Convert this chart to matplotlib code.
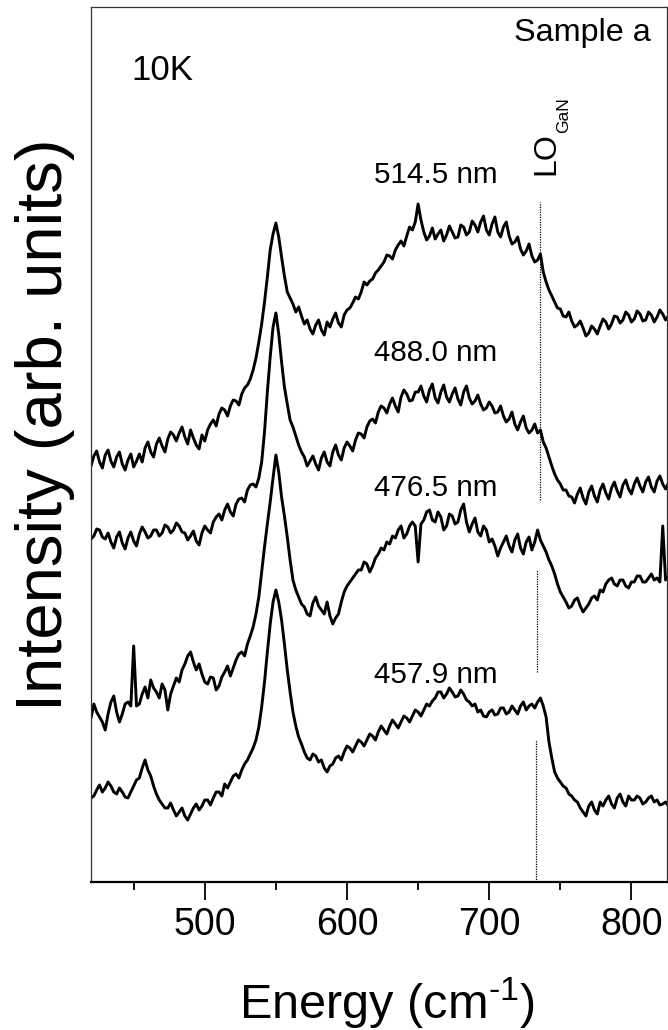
import numpy as np
import matplotlib
matplotlib.use("Agg")
import matplotlib.pyplot as plt
from matplotlib.ticker import MultipleLocator

plt.rcParams['font.family'] = ['Liberation Sans', 'DejaVu Sans']
plt.rcParams['mathtext.fontset'] = 'custom'
plt.rcParams['mathtext.rm'] = 'Liberation Sans'
plt.rcParams['mathtext.it'] = 'Liberation Sans:italic'

# Raman shift grid start and step (cm^-1)
e_start = 418
e_step = 2

# Intensities (arb. units), offset spectra
s514 = [424, 416, 426, 431, 420, 414, 427, 432, 421, 415, 425, 430, 418, 412, 422, 428, 415, 421, 428, 420,
        434, 440, 430, 425, 438, 444, 436, 430, 443, 450, 447, 441, 449, 455, 445, 438, 452, 444, 437, 433,
        447, 441, 452, 458, 462, 456, 468, 474, 472, 466, 476, 482, 481, 477, 488, 494, 497, 503, 512, 524,
        540, 558, 580, 605, 632, 648, 659, 645, 625, 606, 590, 584, 578, 570, 575, 566, 558, 562, 553, 548,
        557, 562, 552, 547, 560, 555, 563, 569, 559, 555, 567, 572, 574, 579, 585, 583, 590, 600, 597, 601,
        603, 609, 612, 616, 620, 627, 626, 623, 632, 637, 641, 636, 646, 655, 652, 660, 678, 662, 650, 642,
        646, 654, 643, 648, 652, 641, 647, 656, 650, 644, 645, 657, 655, 647, 650, 661, 657, 650, 660, 666,
        652, 647, 658, 665, 650, 645, 655, 660, 646, 638, 640, 645, 633, 627, 631, 638, 626, 620, 622, 628,
        610, 600, 592, 586, 580, 574, 573, 566, 565, 570, 561, 555, 557, 561, 554, 546, 549, 556, 553, 548,
        556, 563, 560, 553, 558, 566, 565, 559, 562, 570, 567, 560, 563, 571, 568, 561, 562, 570, 567, 560,
        565, 572, 568, 562, 566]
s488 = [350, 343, 346, 353, 352, 345, 343, 349, 340, 334, 345, 350, 339, 333, 344, 350, 341, 336, 348, 355,
        350, 344, 346, 352, 352, 346, 349, 357, 355, 349, 352, 359, 356, 350, 349, 342, 346, 351, 341, 337,
        349, 356, 352, 349, 360, 365, 368, 362, 372, 378, 370, 366, 378, 383, 384, 380, 392, 397, 398, 395,
        404, 420, 450, 490, 525, 555, 569, 548, 520, 495, 478, 462, 455, 446, 437, 430, 425, 416, 421, 426,
        418, 412, 424, 430, 420, 416, 430, 437, 427, 422, 434, 440, 436, 431, 442, 449, 448, 444, 455, 461,
        463, 459, 470, 476, 474, 469, 478, 484, 476, 470, 485, 492, 488, 481, 482, 490, 490, 496, 486, 480,
        492, 498, 484, 479, 490, 497, 485, 480, 488, 494, 483, 477, 490, 496, 484, 478, 481, 487, 478, 472,
        474, 480, 476, 469, 470, 476, 466, 460, 463, 470, 458, 452, 460, 466, 454, 449, 452, 458, 449, 452,
        440, 434, 425, 416, 408, 402, 398, 392, 392, 386, 385, 379, 388, 394, 384, 378, 390, 396, 386, 380,
        392, 398, 389, 383, 394, 400, 391, 385, 397, 402, 393, 388, 398, 404, 396, 390, 400, 405, 395, 390,
        401, 406, 398, 393, 399]
s476 = [172, 164, 178, 170, 165, 160, 152, 168, 180, 186, 170, 160, 168, 178, 180, 176, 236, 176, 178, 188,
        195, 184, 202, 194, 190, 184, 198, 192, 172, 188, 196, 204, 200, 212, 218, 226, 230, 220, 212, 218,
        208, 200, 198, 205, 204, 192, 196, 205, 210, 216, 206, 214, 222, 228, 230, 226, 238, 246, 255, 268,
        285, 310, 335, 358, 380, 404, 427, 410, 385, 366, 345, 322, 302, 292, 285, 278, 275, 268, 266, 279,
        285, 276, 272, 268, 280, 266, 258, 264, 268, 280, 290, 296, 300, 304, 308, 312, 312, 320, 318, 310,
        316, 324, 328, 334, 332, 340, 338, 346, 344, 352, 356, 344, 348, 356, 360, 356, 320, 358, 362, 370,
        372, 362, 360, 370, 365, 352, 356, 368, 366, 358, 360, 372, 378, 360, 350, 358, 364, 350, 346, 356,
        352, 340, 343, 336, 326, 334, 340, 346, 336, 330, 342, 348, 334, 328, 340, 345, 332, 340, 352, 342,
        336, 330, 322, 316, 308, 298, 290, 285, 280, 274, 276, 282, 284, 276, 270, 274, 278, 284, 286, 282,
        292, 290, 298, 302, 304, 298, 296, 302, 302, 296, 294, 300, 300, 306, 306, 300, 300, 304, 308, 302,
        304, 300, 356, 302, 306]
s457 = [78, 84, 86, 92, 97, 90, 94, 100, 96, 90, 88, 94, 90, 85, 84, 90, 96, 102, 104, 114,
        122, 112, 106, 96, 88, 82, 78, 74, 74, 79, 72, 66, 70, 74, 66, 62, 68, 74, 78, 72,
        76, 82, 82, 77, 84, 90, 90, 86, 98, 94, 100, 106, 108, 104, 112, 118, 122, 128, 134, 142,
        155, 175, 200, 230, 258, 280, 292, 280, 262, 238, 212, 190, 170, 156, 145, 138, 130, 124, 122, 128,
        126, 120, 122, 114, 110, 116, 118, 124, 126, 122, 130, 136, 134, 130, 136, 142, 140, 136, 142, 148,
        146, 142, 150, 156, 152, 148, 156, 162, 158, 154, 160, 166, 164, 160, 166, 172, 170, 166, 172, 178,
        176, 181, 184, 190, 190, 184, 188, 194, 190, 185, 186, 192, 188, 182, 180, 176, 178, 170, 172, 166,
        165, 170, 172, 167, 168, 174, 174, 168, 170, 176, 172, 168, 176, 180, 172, 176, 178, 174, 180, 184,
        176, 165, 140, 124, 110, 104, 100, 96, 94, 88, 86, 82, 80, 74, 70, 66, 76, 80, 72, 68,
        80, 76, 82, 86, 78, 74, 84, 88, 80, 76, 86, 82, 82, 86, 84, 78, 80, 84, 86, 80,
        82, 77, 78, 80, 76]

spectra = [s514, s488, s476, s457]
labels = ['514.5 nm', '488.0 nm', '476.5 nm', '457.9 nm']
label_x = [619, 619, 619, 619]
label_y = [707, 529, 394, 207]

# LO(GaN) dotted marker segments
lo_x = [735.4, 733.3, 732.7]
lo_y0 = [382, 210, 0]
lo_y1 = [680, 312, 142]

xticks = [500, 600, 700, 800]

fig = plt.figure(figsize=(6.68, 10.30), dpi=100)
ax = fig.add_axes([91/668, 1-882/1030, 576/668, 875/1030])

for s in spectra:
    energy = e_start + e_step * np.arange(len(s))
    ax.plot(energy, s, color='black', lw=2.1, solid_joinstyle='round')

for x, a, b in zip(lo_x, lo_y0, lo_y1):
    ax.plot([x, x], [a, b], color='black', lw=0.9, ls=(0, (1, 1)))

for t, x, y in zip(labels, label_x, label_y):
    ax.text(x, y, t, fontsize=21.3, ha='left', va='center')

ax.text(448.7, 812, '10K', fontsize=25, ha='left', va='center')
ax.text(717.5, 849, 'Sample a', fontsize=23.3, ha='left', va='center')
ax.text(740.3, 728, 'LO', fontsize=23, rotation=90, ha='center', va='center')
ax.text(752.0, 767, 'GaN', fontsize=12.5, rotation=90, ha='center', va='center')

ax.set_xlim(420, 825)
ax.set_ylim(0, 875)
ax.set_xticks(xticks)
ax.xaxis.set_minor_locator(MultipleLocator(50))
ax.set_yticks([])
ax.tick_params(axis='x', which='major', direction='out', length=13, width=1.3,
               labelsize=27, pad=5)
ax.tick_params(axis='x', which='minor', direction='out', length=6, width=1.3)

for side in ['left', 'top', 'right']:
    ax.spines[side].set_linewidth(0.9)
    ax.spines[side].set_color('#333333')
ax.spines['bottom'].set_linewidth(1.6)
ax.spines['bottom'].set_color('black')

fig.text(45/668, 1-425/1030, 'Intensity (arb. units)', fontsize=47, rotation=90,
         ha='center', va='center')
fig.text(387/668, 1-1019/1030, 'Energy (cm$^{\\mathregular{\u2010}\\mathregular{1}}$)', fontsize=35,
         ha='center', va='baseline')

fig.savefig('out.png', dpi=100)
